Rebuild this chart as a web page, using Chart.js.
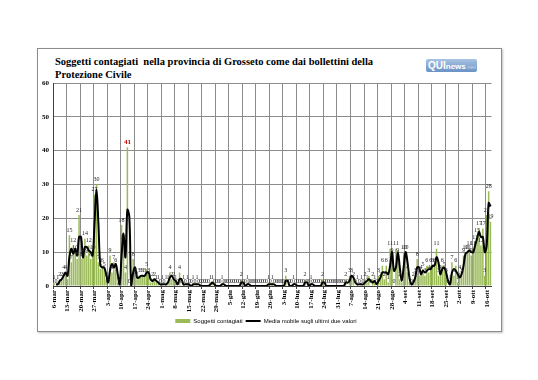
<!DOCTYPE html>
<html>
<head>
<meta charset="utf-8">
<script src="https://cdn.jsdelivr.net/npm/chart.js@4.4.0/dist/chart.umd.min.js"></script>
<style>
  body { margin: 0; width: 538px; height: 380px; background: #fff; position: relative; overflow: hidden; }
  .cornice { position: absolute; left: 37px; top: 48px; width: 463px; height: 282px; border: 1px solid #8c8c8c; box-shadow: 1px 1px 2px rgba(0,0,0,0.25); }
  .titolo { position: absolute; left: 55px; top: 55px; font: bold 10.5px 'Liberation Serif', serif; line-height: 13px; color: #000; }
  .logo { position: absolute; left: 426px; top: 59px; width: 51px; height: 13px; border-radius: 2px;
          background: linear-gradient(#a9c3e3, #6a92c5); font: bold 8px 'Liberation Sans', sans-serif; color: #fff; line-height: 13px; padding-left: 2px; box-sizing: border-box; }
  .logo .qui { font-size: 10px; }
  .logo .net { color: #c8d8ee; font-weight: normal; font-size: 6px; }
  #wrap { position: absolute; left: 38px; top: 49px; width: 462px; height: 285px; }
</style>
</head>
<body>
<div class="cornice"></div>
<div class="titolo">Soggetti contagiati&nbsp; nella provincia di Grosseto come dai bollettini della<br>Protezione Civile</div>
<div class="logo"><span class="qui">QUI</span>news<span class="net">.net</span></div>
<div id="wrap"><canvas id="grafico"></canvas></div>
<script>
// etichette settimanali (una ogni 7 giorni)
const settimane = ['6-mar','13-mar','20-mar','27-mar','3-apr','10-apr','17-apr','24-apr','1-mag','8-mag',
  '15-mag','22-mag','29-mag','5-giu','12-giu','19-giu','26-giu','3-lug','10-lug','17-lug','24-lug',
  '31-lug','7-ago','14-ago','21-ago','28-ago','4-set','11-set','18-set','25-set','2-ott','9-ott','16-ott']

// nuovi contagiati giornalieri, una riga per settimana
const contagiati = [
  1, 0, 1, 2, 2, 4, 4,
  2, 15, 7, 12, 10, 8, 21,
  8, 9, 14, 9, 12, 8, 10,
  27, 30, 7, 5, 6, 5, 2,
  0, 9, 4, 7, 6, 1, 0,
  18, 13, 4, 41, 0, 0, 8,
  3, 2, 3, 3, 3, 3, 5,
  3, 1, 2, 2, 1, 1, 0,
  1, 0, 1, 1, 4, 2, 2,
  1, 0, 4, 0, 1, 0, 1,
  0, 0, 1, 0, 1, 0, 0,
  0, 0, 0, 0, 1, 1, 0,
  0, 0, 0, 1, 0, 0, 0,
  0, 0, 0, 0, 0, 0, 2,
  0, 0, 1, 0, 0, 0, 0,
  0, 0, 0, 0, 0, 0, 1,
  0, 1, 0, 0, 0, 0, 0,
  0, 3, 0, 0, 0, 1, 0,
  0, 0, 0, 0, 2, 0, 0,
  1, 0, 0, 0, 0, 0, 2,
  0, 0, 0, 0, 0, 0, 0,
  0, 0, 0, 0, 2, 0, 3,
  3, 2, 0, 1, 0, 1, 0,
  2, 1, 3, 0, 2, 1, 0,
  3, 2, 6, 2, 6, 1, 11,
  9, 0, 11, 9, 2, 1, 10,
  10, 4, 1, 0, 2, 3, 8,
  3, 4, 5, 3, 6, 4, 6,
  6, 6, 11, 3, 4, 6, 5,
  3, 0, 1, 7, 3, 6, 1,
  4, 3, 9, 10, 10, 11, 9,
  11, 13, 15, 17, 12, 17, 3,
  21, 28, 19
]

const giorni = contagiati.map((v, i) => i % 7 === 0 ? settimane[i / 7] : '')
// media mobile su due valori (trendline del grafico originale)
const media = contagiati.map((v, i) => i === 0 ? null : (v + contagiati[i - 1]) / 2)
const picco = Math.max(...contagiati)

const etichette = {
  id: 'etichette',
  afterDatasetsDraw(chart) {
    const ctx = chart.ctx
    const meta = chart.getDatasetMeta(0)
    ctx.save()
    ctx.textAlign = 'center'
    ctx.textBaseline = 'bottom'
    meta.data.forEach((bar, i) => {
      const v = contagiati[i]
      if (v === picco) {
        ctx.font = 'bold 7px "Liberation Serif"'
        ctx.fillStyle = '#c00000'
      } else {
        ctx.font = '6px "Liberation Serif"'
        ctx.fillStyle = '#262626'
      }
      ctx.fillText(v, bar.x, bar.y - 2)
    })
    ctx.restore()
  }
}

const ctx = document.getElementById('grafico').getContext('2d')
const myChart = new Chart(ctx, {
  type: 'bar',
  data: {
    labels: giorni,
    datasets: [{
      label: 'Soggetti contagiati',
      data: contagiati,
      backgroundColor: '#9bbb59',
      barPercentage: 0.78,
      categoryPercentage: 1,
      pointStyle: 'rect',
      order: 1
    }, {
      type: 'line',
      label: 'Media mobile sugli ultimi due valori',
      data: media,
      borderColor: '#000',
      backgroundColor: '#000',
      borderWidth: 2,
      pointRadius: 0,
      tension: 0.4,
      pointStyle: 'line',
      order: 0
    }]
  },
  options: {
    responsive: true,
    maintainAspectRatio: false,
    animation: false,
    layout: { padding: { top: 34, right: 8, left: 2, bottom: 0 } },
    plugins: {
      tooltip: { enabled: false },
      legend: {
        position: 'bottom',
        labels: {
          usePointStyle: true,
          pointStyleWidth: 15,
          boxHeight: 4,
          padding: 3,
          color: '#000',
          font: { family: 'Liberation Sans', size: 6 },
          sort: (a, b) => a.datasetIndex - b.datasetIndex
        }
      }
    },
    scales: {
      x: {
        grid: {
          offset: true,
          color: c => (c.index % 7 === 0 || c.index === contagiati.length) ? '#8c8c8c' : 'rgba(0,0,0,0)',
          tickColor: c => c.index % 7 === 0 ? '#404040' : 'rgba(0,0,0,0)',
          tickLength: 3
        },
        border: { color: '#404040' },
        ticks: {
          autoSkip: false,
          maxRotation: 90,
          minRotation: 90,
          padding: 1,
          color: '#000',
          font: { family: 'Liberation Serif', size: 7, weight: 'bold' }
        },
        afterFit: s => { s.height = 29 }
      },
      y: {
        min: 0,
        max: 60,
        ticks: {
          stepSize: 10,
          padding: 4,
          color: '#000',
          font: { family: 'Liberation Serif', size: 7, weight: 'bold' }
        },
        grid: { color: '#8c8c8c', drawTicks: false },
        border: { color: '#404040' },
        afterFit: s => { s.width = 13 }
      }
    }
  },
  plugins: [etichette]
})
</script>
</body>
</html>
